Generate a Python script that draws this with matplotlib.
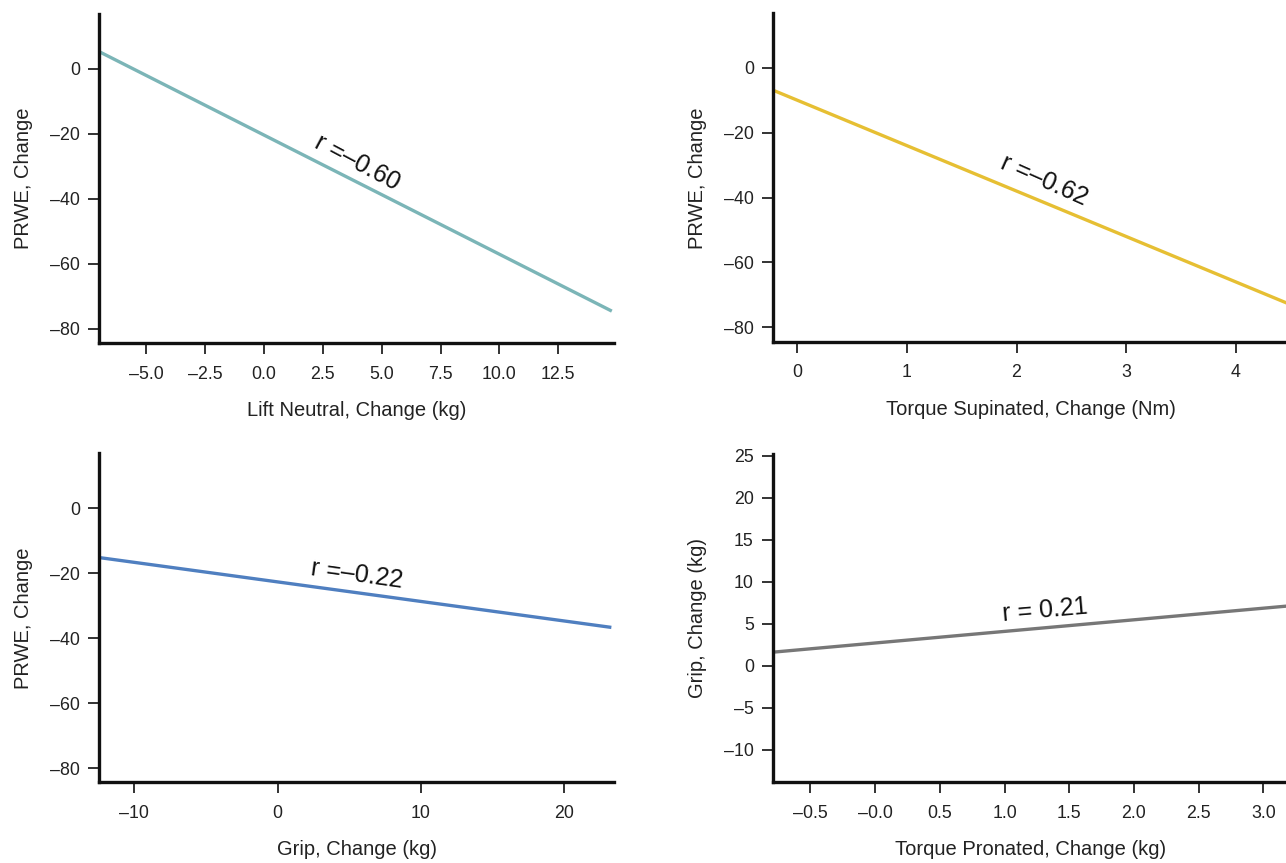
import matplotlib
matplotlib.use("Agg")
import matplotlib.pyplot as plt

plt.rcParams['font.family'] = ['Liberation Sans', 'DejaVu Sans']

# fitted regression lines (end points)
lift_x = [-6.99, 14.77]
lift_y = [5.3, -74.5]
sup_x = [-0.22, 4.47]
sup_y = [-6.9, -72.6]
grip_x = [-12.45, 23.3]
grip_y = [-15.2, -36.7]
pron_x = [-0.79, 3.19]
pron_y = [1.6, 7.1]

r_labels = ["r =\u20130.60", "r =\u20130.62", "r =\u20130.22", "r = 0.21"]

prwe_ticks = [0, -20, -40, -60, -80]
prwe_ticklabels = ["0", "\u201320", "\u201340", "\u201360", "\u201380"]

lift_ticks = [-5.0, -2.5, 0.0, 2.5, 5.0, 7.5, 10.0, 12.5]
lift_ticklabels = ["\u20135.0", "\u20132.5", "0.0", "2.5", "5.0", "7.5", "10.0", "12.5"]
sup_ticks = [0, 1, 2, 3, 4]
sup_ticklabels = ["0", "1", "2", "3", "4"]
grip_ticks = [-10, 0, 10, 20]
grip_ticklabels = ["\u201310", "0", "10", "20"]
pron_ticks = [-0.5, 0.0, 0.5, 1.0, 1.5, 2.0, 2.5, 3.0]
pron_ticklabels = ["\u20130.5", "\u20130.0", "0.5", "1.0", "1.5", "2.0", "2.5", "3.0"]
gripy_ticks = [25, 20, 15, 10, 5, 0, -5, -10]
gripy_ticklabels = ["25", "20", "15", "10", "5", "0", "\u20135", "\u201310"]

fig = plt.figure(figsize=(12.86, 8.63), dpi=100)

W = 0.4002
ax1 = fig.add_axes([0.0772, 0.6022, W, 0.3816])
ax2 = fig.add_axes([0.6013, 0.6034, W, 0.3812])
ax3 = fig.add_axes([0.0772, 0.0935, W, 0.3812])
ax4 = fig.add_axes([0.6013, 0.0935, W, 0.3804])


def style(ax):
    for s in ['top', 'right']:
        ax.spines[s].set_visible(False)
    for s in ['left', 'bottom']:
        ax.spines[s].set_linewidth(2.4)
        ax.spines[s].set_color('#111111')
        ax.spines[s].set_capstyle('projecting')
    ax.tick_params(length=8, width=1.2, color='#111111', labelsize=12.8,
                   labelcolor='#222222', pad=6)
    ax.tick_params(axis='x', pad=8)


panels = [
    (ax1, lift_x, lift_y, '#7bb5b7', (-6.99, 14.86), (-84.4, 16.9),
     lift_ticks, lift_ticklabels, prwe_ticks, prwe_ticklabels,
     'Lift Neutral, Change (kg)', 'PRWE, Change', (3.97, -28.7), -28),
    (ax2, sup_x, sup_y, '#e6bf33', (-0.218, 4.474), (-84.6, 16.8),
     sup_ticks, sup_ticklabels, prwe_ticks, prwe_ticklabels,
     'Torque Supinated, Change (Nm)', 'PRWE, Change', (2.25, -34.7), -24),
    (ax3, grip_x, grip_y, '#4f7fc0', (-12.45, 23.48), (-84.4, 16.9),
     grip_ticks, grip_ticklabels, prwe_ticks, prwe_ticklabels,
     'Grip, Change (kg)', 'PRWE, Change', (5.56, -20.5), -8),
    (ax4, pron_x, pron_y, '#777777', (-0.787, 3.19), (-13.9, 25.2),
     pron_ticks, pron_ticklabels, gripy_ticks, gripy_ticklabels,
     'Torque Pronated, Change (kg)', 'Grip, Change (kg)', (1.31, 6.64), 5),
]

for i, (ax, xs, ys, col, xl, yl, xt, xtl, yt, ytl, xlab, ylab, tpos, rot) in enumerate(panels):
    style(ax)
    ax.plot(xs, ys, color=col, lw=2.4, solid_capstyle='butt', zorder=1)
    ax.set_xlim(*xl)
    ax.set_ylim(*yl)
    ax.set_xticks(xt)
    ax.set_xticklabels(xtl)
    ax.set_yticks(yt)
    ax.set_yticklabels(ytl)
    ax.set_xlabel(xlab, fontsize=14.5, color='#222222', labelpad=13)
    ax.set_ylabel(ylab, fontsize=14.5, color='#222222', labelpad=12)
    ax.text(tpos[0], tpos[1], r_labels[i], fontsize=18, rotation=rot,
            rotation_mode='anchor', ha='center', va='center', color='#111111')

fig.savefig('out.png', dpi=100)
